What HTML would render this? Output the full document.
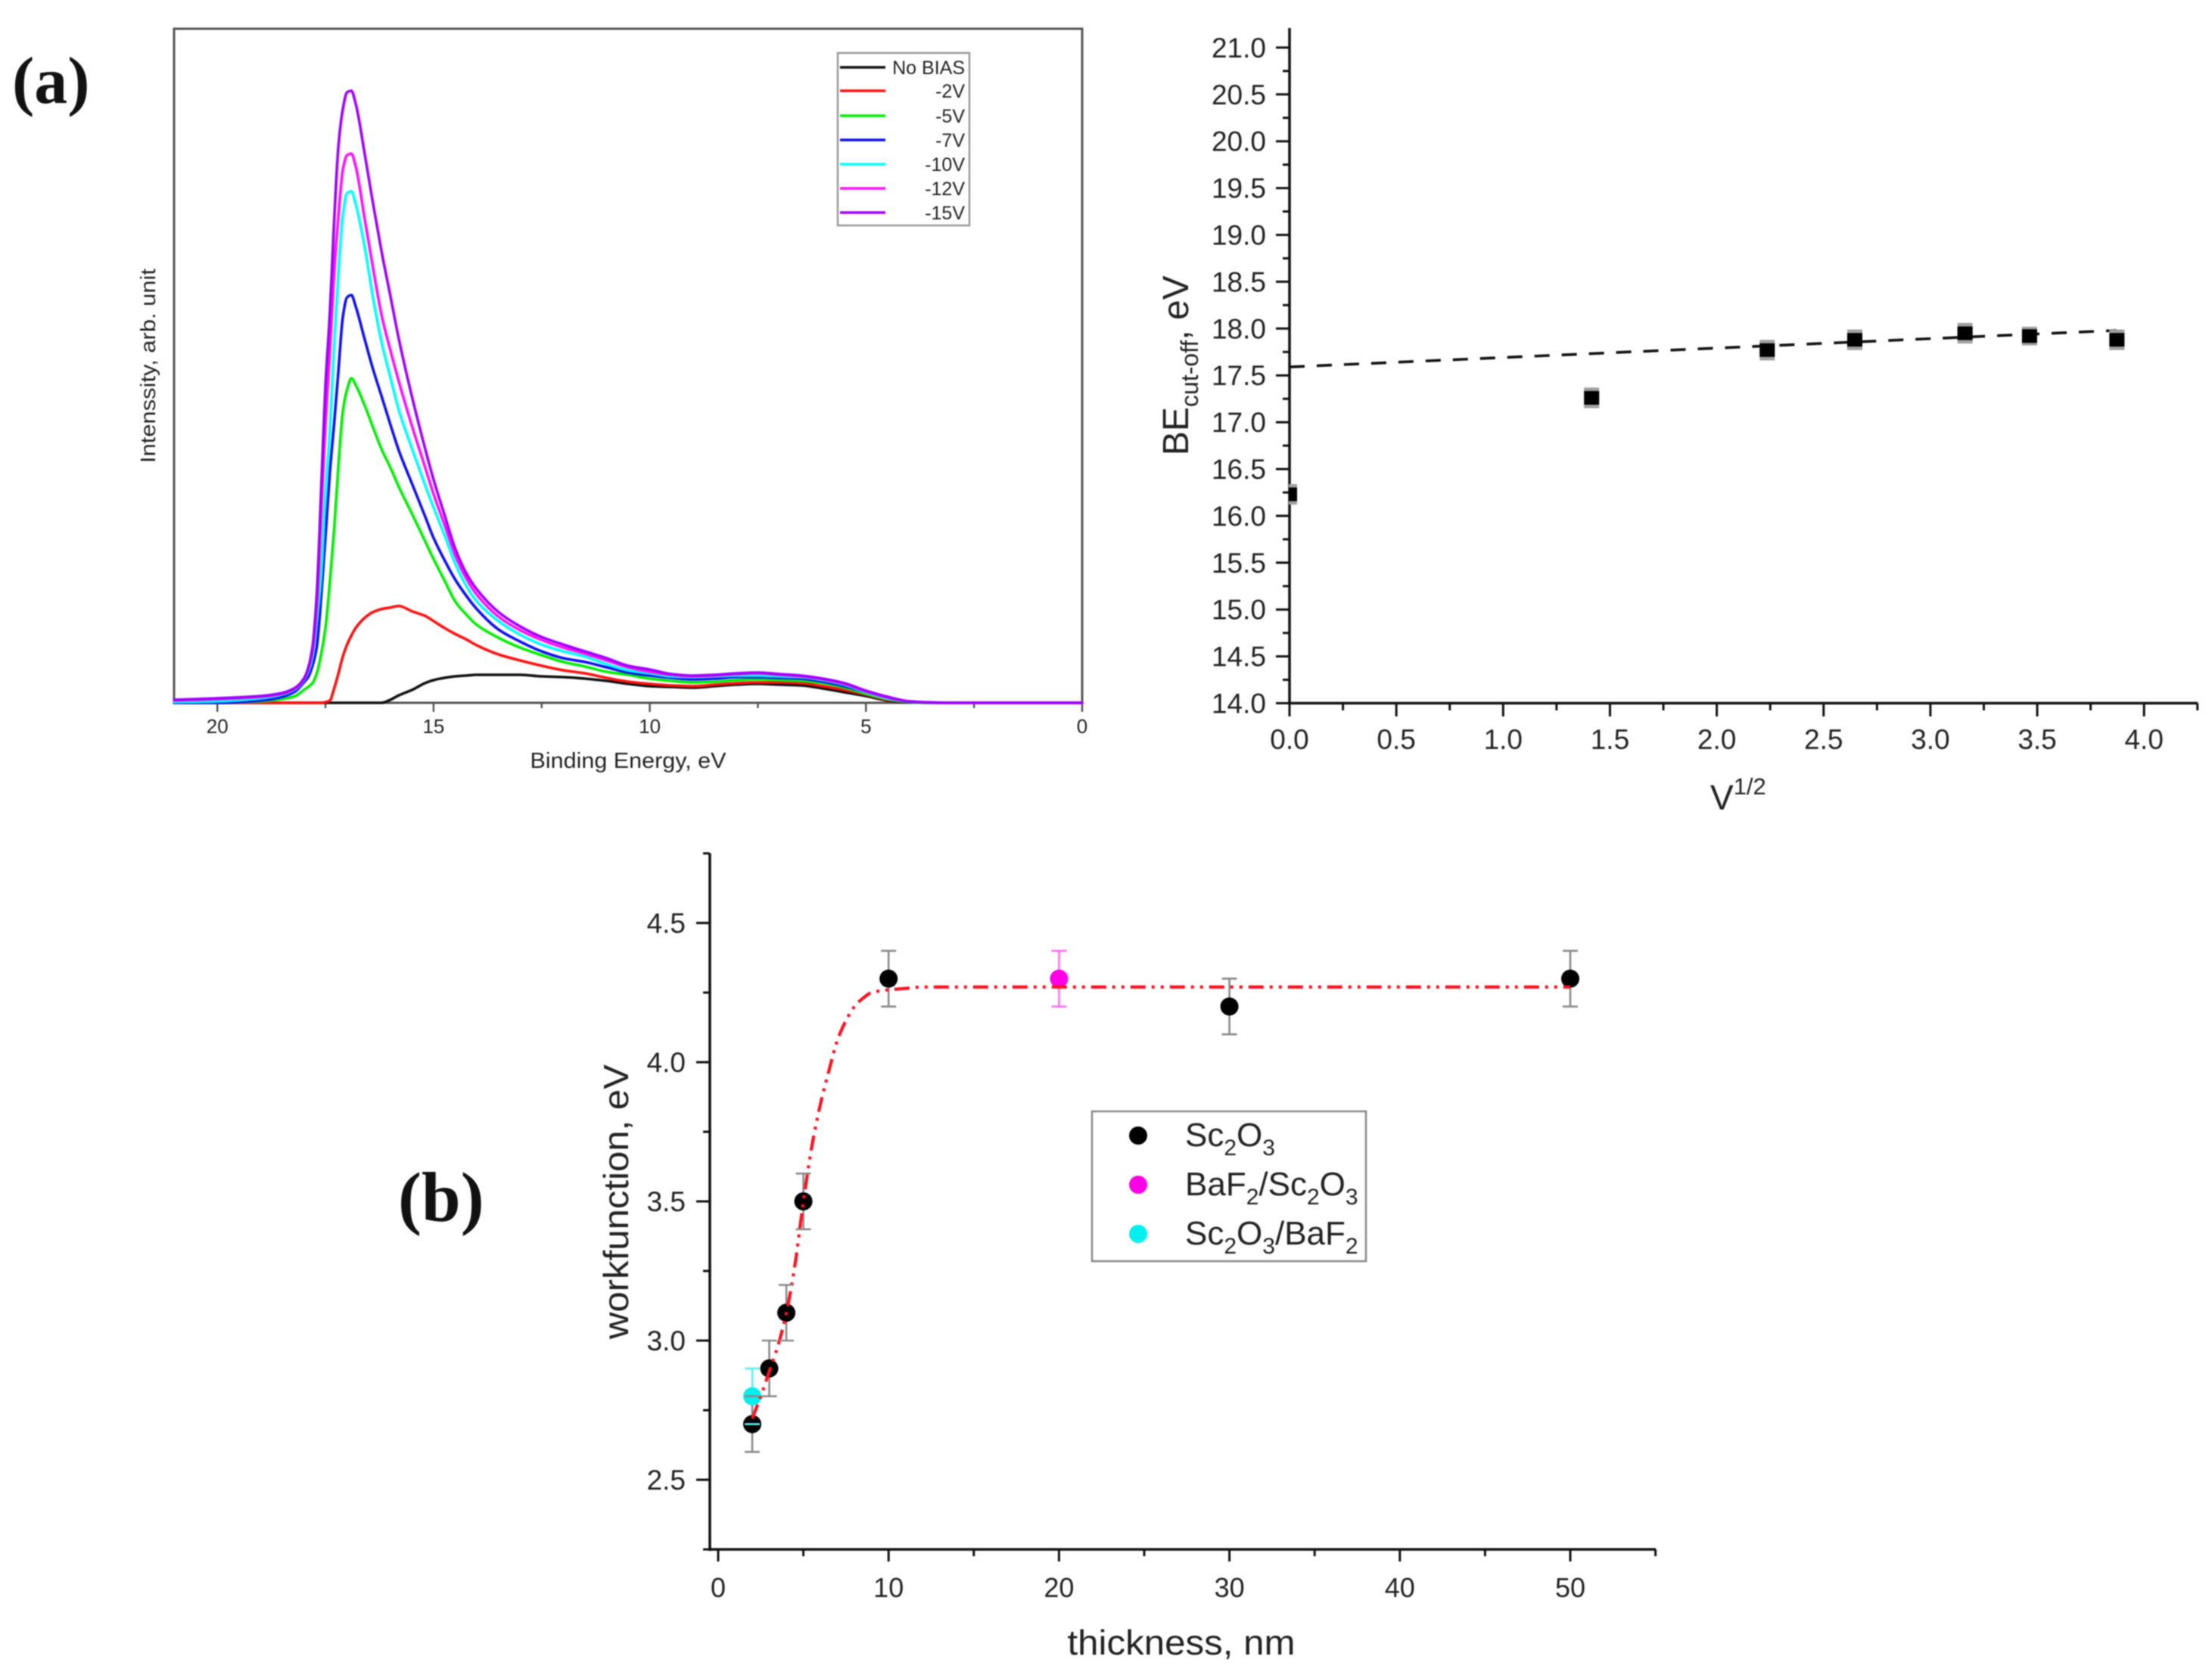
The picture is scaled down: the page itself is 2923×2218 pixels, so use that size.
<!DOCTYPE html>
<html lang="en">
<head>
<meta charset="utf-8">
<title>Photoemission spectra, cut-off and workfunction charts</title>
<style>
html,body{margin:0;padding:0;background:#fff;width:2923px;height:2218px;overflow:hidden}
svg{display:block;filter:blur(0.9px)}
text{font-family:"Liberation Sans",sans-serif;fill:#222}
.serif{font-family:"Liberation Serif",serif;font-weight:bold;fill:#111}
</style>
</head>
<body>
<svg id="root" xmlns="http://www.w3.org/2000/svg" width="2923" height="2218" viewBox="0 0 2923 2218">
<defs>
<clipPath id="cutoffClip"><rect x="1703" y="20" width="1210" height="920"/></clipPath>
</defs>
<rect x="0" y="0" width="2923" height="2218" fill="#fff"/>

<!-- Panel a legend box sits beneath the key lines drawn by the script -->
<rect x="1107" y="70" width="174" height="228" fill="none" stroke="#999" stroke-width="2.5"/>

<g id="panelA"></g>
<g id="panelC"></g>
<g id="panelB"></g>

<text class="serif" x="16" y="136" font-size="88">(a)</text>
<text class="serif" x="526" y="1614" font-size="93">(b)</text>

<!-- Panel a labels -->
<text x="830" y="1015" font-size="29" text-anchor="middle" textLength="259" lengthAdjust="spacingAndGlyphs">Binding Energy, eV</text>
<text transform="translate(205,612) rotate(-90)" font-size="28" textLength="257" lengthAdjust="spacingAndGlyphs">Intenssity, arb. unit</text>

<!-- Panel a legend labels -->
<g>
<text x="1275" y="98" font-size="25" text-anchor="end">No BIAS</text>
<text x="1275" y="129" font-size="25" text-anchor="end">-2V</text>
<text x="1275" y="162" font-size="25" text-anchor="end">-5V</text>
<text x="1275" y="194" font-size="25" text-anchor="end">-7V</text>
<text x="1275" y="226" font-size="25" text-anchor="end">-10V</text>
<text x="1275" y="258" font-size="25" text-anchor="end">-12V</text>
<text x="1275" y="290" font-size="25" text-anchor="end">-15V</text>
</g>

<!-- Cut-off panel labels -->
<text transform="translate(1570,602) rotate(-90)" font-size="48">BE<tspan font-size="32" dy="13">cut-off</tspan><tspan dy="-13">, eV</tspan></text>
<text x="2260" y="1070" font-size="46">V<tspan font-size="31" dy="-20">1/2</tspan></text>

<!-- Panel b labels -->
<text x="1561" y="2187" font-size="46" text-anchor="middle" textLength="301" lengthAdjust="spacingAndGlyphs">thickness, nm</text>
<text transform="translate(830,1770) rotate(-90)" font-size="46" textLength="363" lengthAdjust="spacingAndGlyphs">workfunction, eV</text>

<!-- Panel b legend -->
<g>
<rect x="1443" y="1469" width="362" height="198" fill="#fff" stroke="#888" stroke-width="2.5"/>
<circle cx="1504" cy="1501" r="12" fill="#000"/>
<circle cx="1504" cy="1566" r="12" fill="#ff00e6"/>
<circle cx="1504" cy="1631" r="12" fill="#00f0f0"/>
<text x="1566" y="1515" font-size="44">Sc<tspan font-size="30" dy="12">2</tspan><tspan dy="-12">O</tspan><tspan font-size="30" dy="12">3</tspan></text>
<text x="1566" y="1580" font-size="44">BaF<tspan font-size="30" dy="12">2</tspan><tspan dy="-12">/Sc</tspan><tspan font-size="30" dy="12">2</tspan><tspan dy="-12">O</tspan><tspan font-size="30" dy="12">3</tspan></text>
<text x="1566" y="1645" font-size="44">Sc<tspan font-size="30" dy="12">2</tspan><tspan dy="-12">O</tspan><tspan font-size="30" dy="12">3</tspan><tspan dy="-12">/BaF</tspan><tspan font-size="30" dy="12">2</tspan></text>
</g>
</svg>

<script>
// ---- Panel (a) spectra data ----
var energyEV = [21,20,19,18.5,18.2,18,17.9,17.8,17.7,17.6,17.5,17.4,17.3,17.2,17.1,17,16.9,16.8,16.6,16.4,16.2,16,15.8,15.5,15.2,15,14.75,14.5,14.25,14,13.5,13,12.5,12,11.5,11,10.5,10,9.5,9,8.5,8,7.5,7,6.5,6,5.5,5,4.5,4,3.5,3,0];
var noBias = [0,0,0,0,0,0,0,0,0,0,0,0,0,0,0,0,0,0,0,0,0,4,10,17,26,30,33,35,36,37,37,37,35,34,32,29,25,22,21,20,22,24,25,24,23,19,14,9,3,0.5,0,0,0];
var bias2V = [0,0,0,0,0,0,0,0,0,0,1,3,19,39,61,77,89,99,112,120,124,126,128,121,115,108,99,91,84,76,64,56,49,43,39,33,28,25,23,22,24,26,27,27,26,22,17,11,4,1,0,0,0];
var bias5V = [0,0,2,5,9,17,21,26,39,64,99,159,229,314,384,414,429,420,394,364,335,311,285,250,214,190,162,134,117,103,86,73,63,54,48,41,37,32,29,27,28,30,31,30,29,26,20,12,5,1,0,0,0];
var bias7V = [0,0,3,8,15,27,34,49,74,139,219,304,369,439,509,536,539,524,482,441,405,368,333,290,247,218,189,163,142,124,97,81,68,59,54,47,40,36,33,31,32,34,34,33,32,28,22,14,6,1.5,0.5,0,0];
var bias10V = [1,2,6,11,18,30,41,61,109,169,279,359,474,569,644,674,676,659,604,535,476,430,386,336,288,258,222,184,155,134,108,90,77,68,61,51,43,39,35,34,35,36,36,35,34,30,24,14,6,2,0.5,0,0];
var bias12V = [3,5,8,12,19,31,44,69,129,249,369,464,569,644,704,724,726,709,642,575,512,466,424,366,312,276,236,195,165,143,114,96,83,73,65,56,47,41,37,35,36,38,39,37,35,31,25,15,7,2,0.5,0,0];
var bias15V = [4,6,9,13,20,32,46,74,144,279,419,514,636,736,784,807,809,792,728,660,596,538,480,405,337,295,249,204,172,150,120,101,87,77,68,59,49,44,38,36,37,39,40,38,36,32,26,16,8,2,0.5,0,0];
var spectraLabels = ['no-bias','2v','5v','7v','10v','12v','15v'];
var spectraColors = ['#111111','#ff1010','#00f000','#1010f0','#00ffff','#ff10ff','#a000ff'];
var energyMajorTicks = [20,15,10,5,0];
var energyMinorTicks = [17.5,12.5,7.5,2.5];

// ---- Cut-off panel data ----
var sqrtV = [0,1.414,2.236,2.646,3.162,3.464,3.873];
var cutoffBE = [16.23,17.26,17.77,17.88,17.95,17.92,17.88];
var cutoffErr = [0.11,0.11,0.11,0.11,0.11,0.1,0.11];
var fitSqrtV = [0,3.87];
var fitBE = [17.59,17.98];
var cutoffYTicks = ['14.0','14.5','15.0','15.5','16.0','16.5','17.0','17.5','18.0','18.5','19.0','19.5','20.0','20.5','21.0'];
var cutoffXTicks = ['0.0','0.5','1.0','1.5','2.0','2.5','3.0','3.5','4.0'];

// ---- Panel (b) data ----
var thicknessSc = [2,3,4,5,10,30,50];
var workSc = [2.7,2.9,3.1,3.5,4.3,4.2,4.3];
var thicknessBaSc = [20];
var workBaSc = [4.3];
var thicknessScBa = [2];
var workScBa = [2.8];
var workErr = [0.1];
var fitThickness = [2,2.5,3,3.5,4,4.5,5,5.5,6,6.5,7,7.5,8,8.5,9,10,11,12,15,20,30,40,50];
var fitWork = [2.72,2.8,2.89,2.98,3.1,3.27,3.5,3.7,3.85,3.97,4.08,4.15,4.2,4.23,4.25,4.26,4.265,4.27,4.27,4.27,4.27,4.27,4.27];
var thickMajorTicks = ['0','10','20','30','40','50'];
var thickMinorTicks = [5,15,25,35,45,55];
var workMajorTicks = ['2.5','3.0','3.5','4.0','4.5'];
var workMinorTicks = [2.25,2.75,3.25,3.75,4.25,4.75];

var NS = 'http://www.w3.org/2000/svg';
function mk(tag, attrs, parent){
  var el = document.createElementNS(NS, tag);
  for (var k in attrs) el.setAttribute(k, attrs[k]);
  parent.appendChild(el);
  return el;
}
// Monotone cubic path through points sorted by x
function smoothPath(px, py){
  var n = px.length, d = [], m = [], i;
  for (i = 0; i < n - 1; i++) d.push((py[i+1]-py[i])/(px[i+1]-px[i]));
  m.push(d[0]);
  for (i = 1; i < n - 1; i++) {
    if (d[i-1]*d[i] <= 0) { m.push(0); }
    else {
      var h0 = px[i]-px[i-1], h1 = px[i+1]-px[i];
      m.push(3*(h0+h1)/((2*h1+h0)/d[i-1]+(h1+2*h0)/d[i]));
    }
  }
  m.push(d[n-2]);
  var s = 'M'+px[0].toFixed(1)+' '+py[0].toFixed(1);
  for (i = 0; i < n - 1; i++) {
    var h = (px[i+1]-px[i])/3;
    s += 'C'+(px[i]+h).toFixed(1)+' '+(py[i]+m[i]*h).toFixed(1)+' '+(px[i+1]-h).toFixed(1)+' '+(py[i+1]-m[i+1]*h).toFixed(1)+' '+px[i+1].toFixed(1)+' '+py[i+1].toFixed(1);
  }
  return s;
}

// ---------- Panel (a) ----------
(function(){
  var g = document.getElementById('panelA');
  function xA(e){ return 1430 - e * 57.14; }
  function yA(v){ return 929 - v; }
  var series = [noBias,bias2V,bias5V,bias7V,bias10V,bias12V,bias15V];
  var frame = mk('rect',{x:230,y:38,width:1200,height:891,fill:'none',stroke:'#555','stroke-width':3},g);
  
  
  energyMajorTicks.forEach(function(t){
    var l = mk('line',{x1:xA(t),x2:xA(t),y1:929,y2:941,stroke:'#555','stroke-width':2.5},g);
    
    
    var s = mk('text',{x:xA(t),y:969,'font-size':26,'text-anchor':'middle'},g);
    s.textContent = String(t);
    
    
  });
  energyMinorTicks.forEach(function(t){
    var l = mk('line',{x1:xA(t),x2:xA(t),y1:929,y2:936,stroke:'#555','stroke-width':2.5},g);
    
    
  });
  var rowY = [89,120,153,185,217,249,281];
  var px = energyEV.map(xA);
  series.forEach(function(vals,i){
    var p = mk('path',{d:smoothPath(px, vals.map(yA)),fill:'none',stroke:spectraColors[i],'stroke-width':3.6,'stroke-linejoin':'round','stroke-linecap':'round'},g);
    
    
    var k = mk('line',{x1:1110,x2:1170,y1:rowY[i],y2:rowY[i],stroke:spectraColors[i],'stroke-width':3.5},g);
    
    
  });
})();

// ---------- Cut-off panel ----------
(function(){
  var g = document.getElementById('panelC');
  function xC(v){ return 1704 + v * 282.3; }
  function yC(v){ return 929.5 - (v - 14) * 123.8; }
  var ax = mk('line',{x1:1702,x2:2904,y1:929.5,y2:929.5,stroke:'#111','stroke-width':3.5},g);
  
  
  var ay = mk('line',{x1:1704,x2:1704,y1:37,y2:931,stroke:'#111','stroke-width':3.5},g);
  
  
  cutoffYTicks.forEach(function(t){
    var v = parseFloat(t);
    var l = mk('line',{x1:1686,x2:1704,y1:yC(v),y2:yC(v),stroke:'#111','stroke-width':3},g);
    
    
    var s = mk('text',{x:1673,y:yC(v)+13,'font-size':37,'text-anchor':'end'},g);
    s.textContent = t;
    
    
    if (v < 21) {
      var m = mk('line',{x1:1695,x2:1704,y1:yC(v+0.25),y2:yC(v+0.25),stroke:'#111','stroke-width':3},g);
      
      
    }
  });
  cutoffXTicks.forEach(function(t){
    var v = parseFloat(t);
    var l = mk('line',{x1:xC(v),x2:xC(v),y1:929.5,y2:947,stroke:'#111','stroke-width':3},g);
    
    
    var s = mk('text',{x:xC(v),y:990,'font-size':37,'text-anchor':'middle'},g);
    s.textContent = t;
    
    
    if (v <= 4) {
      var m = mk('line',{x1:xC(v+0.25),x2:xC(v+0.25),y1:929.5,y2:939,stroke:'#111','stroke-width':3},g);
      
      
    }
  });
  var fit = mk('line',{x1:xC(fitSqrtV[0]),y1:yC(fitBE[0]),x2:xC(fitSqrtV[1]),y2:yC(fitBE[1]),stroke:'#111','stroke-width':3.6,'stroke-dasharray':'20 16'},g);
  
  
  var pts = mk('g',{'clip-path':'url(#cutoffClip)'},g);
  
  
  sqrtV.forEach(function(x,i){
    var cx = xC(x), hi = yC(cutoffBE[i]+cutoffErr[i]), lo = yC(cutoffBE[i]-cutoffErr[i]);
    var e = mk('rect',{x:cx-10,y:hi,width:20,height:lo-hi,fill:'#a0a0a0'},pts);
    
    
    var r = mk('rect',{x:cx-10,y:yC(cutoffBE[i])-9,width:20,height:18,fill:'#000'},pts);
    
    
  });
})();

// ---------- Panel (b) ----------
(function(){
  var g = document.getElementById('panelB');
  function xB(t){ return 949 + t * 22.52; }
  function yB(w){ return 1956 - (w - 2.5) * 368; }
  var ax = mk('line',{x1:936,x2:2188,y1:2048,y2:2048,stroke:'#111','stroke-width':3.5},g);
  
  
  var ay = mk('line',{x1:938,x2:938,y1:1128,y2:2050,stroke:'#111','stroke-width':3.5},g);
  
  
  workMajorTicks.forEach(function(t){
    var v = parseFloat(t);
    var l = mk('line',{x1:920,x2:938,y1:yB(v),y2:yB(v),stroke:'#111','stroke-width':3},g);
    
    
    var s = mk('text',{x:906,y:yB(v)+13,'font-size':37,'text-anchor':'end'},g);
    s.textContent = t;
    
    
  });
  workMinorTicks.forEach(function(v){
    var l = mk('line',{x1:929,x2:938,y1:yB(v),y2:yB(v),stroke:'#111','stroke-width':3},g);
    
    
  });
  thickMajorTicks.forEach(function(t){
    var v = parseFloat(t);
    var l = mk('line',{x1:xB(v),x2:xB(v),y1:2048,y2:2064,stroke:'#111','stroke-width':3},g);
    
    
    var s = mk('text',{x:xB(v),y:2111,'font-size':36,'text-anchor':'middle'},g);
    s.textContent = t;
    
    
  });
  thickMinorTicks.forEach(function(v){
    var l = mk('line',{x1:xB(v),x2:xB(v),y1:2048,y2:2057,stroke:'#111','stroke-width':3},g);
    
    
  });

  var groups = [
    {xs:thicknessScBa, ys:workScBa, fill:'#00f0f0', bar:'#60f0f0', name:'sc2o3-baf2'},
    {xs:thicknessBaSc, ys:workBaSc, fill:'#ff00e6', bar:'#ff70f0', name:'baf2-sc2o3'},
    {xs:thicknessSc, ys:workSc, fill:'#000000', bar:'#8a8a8a', name:'sc2o3'}
  ];
  groups.forEach(function(s){
    s.xs.forEach(function(x,i){
      var st = mk('line',{x1:xB(x),x2:xB(x),y1:yB(s.ys[i]+workErr[0]),y2:yB(s.ys[i]-workErr[0]),stroke:s.bar,'stroke-width':2.6},g);
      
      
    });
  });
  groups.forEach(function(s){
    s.xs.forEach(function(x,i){
      var c = mk('circle',{cx:xB(x),cy:yB(s.ys[i]),r:12,fill:s.fill},g);
      
      
    });
  });
  var fit = mk('path',{d:smoothPath(fitThickness.map(xB), fitWork.map(yB)),fill:'none',stroke:'#ff1020','stroke-width':4.2,'stroke-dasharray':'20 8 4 8 4 8'},g);
  
  
  groups.forEach(function(s){
    s.xs.forEach(function(x,i){
      [1,-1].forEach(function(sign){
        var y = yB(s.ys[i]+sign*workErr[0]);
        var cap = mk('line',{x1:xB(x)-10,x2:xB(x)+10,y1:y,y2:y,stroke:s.bar,'stroke-width':2.6},g);
        
        
      });
    });
  });
})();
</script>
</body>
</html>
